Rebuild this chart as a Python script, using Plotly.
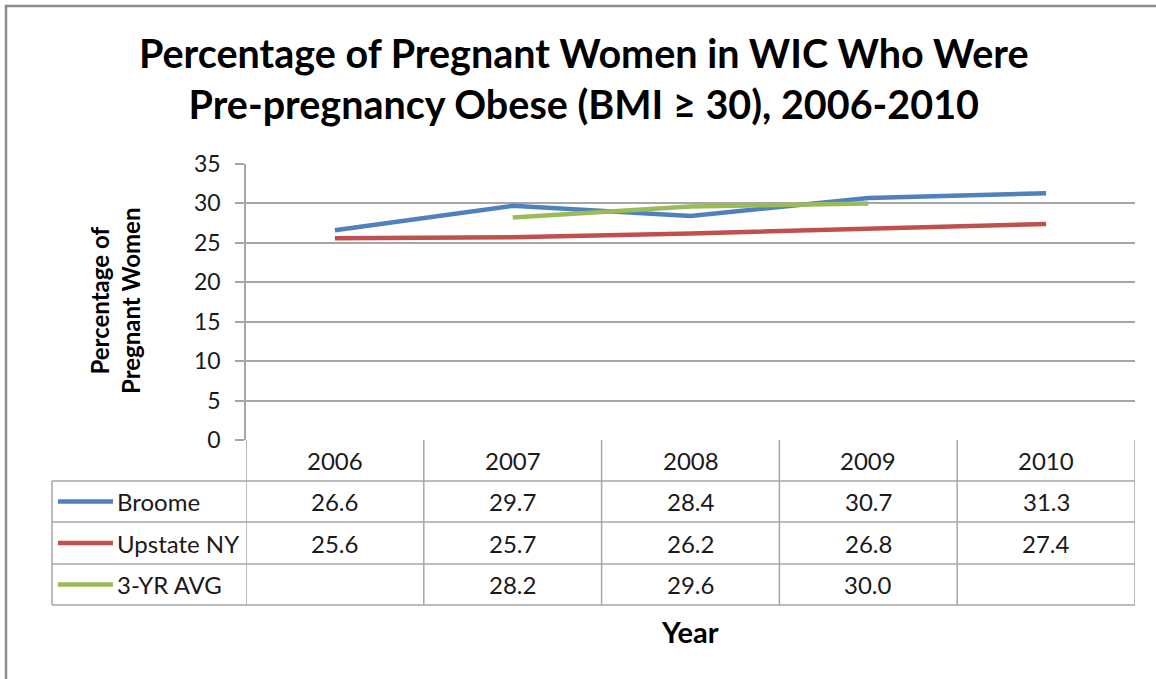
import plotly.graph_objects as go

W, H = 1156, 679

years = ["2006", "2007", "2008", "2009", "2010"]
series_names = ["Broome", "Upstate NY", "3-YR AVG"]
broome = [26.6, 29.7, 28.4, 30.7, 31.3]
upstate = [25.6, 25.7, 26.2, 26.8, 27.4]
avg3 = [None, 28.2, 29.6, 30.0, None]
colors = ["#4F81BD", "#C0504D", "#9BBB59"]
yticks = [0, 5, 10, 15, 20, 25, 30, 35]

title_text = "Percentage of Pregnant Women in WIC Who Were<br>Pre-pregnancy Obese (BMI ≥ 30), 2006-2010"
ytitle = "Percentage of<br>Pregnant Women"
xtitle = "Year"

FONT = "Lato, Carlito, Calibri, sans-serif"
GRID = "#A6A6A6"


def px(x):
    return x / W


def py(y):
    return 1 - y / H


# layout geometry (pixels)
plot_left, plot_right = 246, 1135
plot_top, plot_bottom = 164, 440
row_lines = [440, 481, 522, 564, 605]
legend_left = 52

xs = list(range(len(years)))
data = [broome, upstate, avg3]

fig = go.Figure()
for name, vals, col in zip(series_names, data, colors):
    fig.add_trace(go.Scatter(x=xs, y=vals, mode="lines", name=name,
                             line=dict(color=col, width=4.5),
                             connectgaps=False, showlegend=False,
                             hoverinfo="skip"))

shapes = []
annotations = []

# outer border
shapes.append(dict(type="rect", xref="paper", yref="paper",
                   x0=px(6), x1=px(1170), y0=py(700), y1=py(6),
                   line=dict(color="#8C8C8C", width=2.5)))

# table horizontal lines
for i, yl in enumerate(row_lines):
    if i == 0:
        continue
    shapes.append(dict(type="line", xref="paper", yref="paper",
                       x0=px(legend_left), x1=px(plot_right),
                       y0=py(yl), y1=py(yl),
                       line=dict(color=GRID, width=1.5)))
# table vertical lines (category boundaries)
for k in range(len(years) + 1):
    shapes.append(dict(type="line", xref="x", yref="paper",
                       x0=k - 0.5, x1=k - 0.5,
                       y0=py(row_lines[-1]), y1=py(row_lines[0]),
                       line=dict(color=GRID, width=1.5)))
# legend column left edge
shapes.append(dict(type="line", xref="paper", yref="paper",
                   x0=px(legend_left), x1=px(legend_left),
                   y0=py(row_lines[-1]), y1=py(row_lines[1]),
                   line=dict(color=GRID, width=1.5)))

cell_font = dict(family=FONT, size=24, color="#1a1a1a")

# header years
for k, yr in enumerate(years):
    annotations.append(dict(x=k, y=py((row_lines[0] + row_lines[1]) / 2),
                            xref="x", yref="paper", text=yr, showarrow=False,
                            font=cell_font, xanchor="center", yanchor="middle"))

# rows
for r, (name, vals, col) in enumerate(zip(series_names, data, colors)):
    yc = py((row_lines[r + 1] + row_lines[r + 2]) / 2)
    shapes.append(dict(type="line", xref="paper", yref="paper",
                       x0=px(58), x1=px(113), y0=yc, y1=yc,
                       line=dict(color=col, width=4.5)))
    annotations.append(dict(x=px(115), y=yc, xref="paper", yref="paper",
                            text=name, showarrow=False, font=cell_font,
                            xanchor="left", yanchor="middle"))
    for k, v in enumerate(vals):
        if v is None:
            continue
        annotations.append(dict(x=k, y=yc, xref="x", yref="paper",
                                text=f"{v:.1f}", showarrow=False, font=cell_font,
                                xanchor="center", yanchor="middle"))

# title
annotations.append(dict(x=px(584), y=py(78), xref="paper", yref="paper",
                        text=f"<b>{title_text}</b>", showarrow=False,
                        font=dict(family=FONT, size=39.5, color="#000000"),
                        xanchor="center", yanchor="middle"))
# y title
annotations.append(dict(x=px(115), y=py(301), xref="paper", yref="paper",
                        text=f"<b>{ytitle}</b>", showarrow=False, textangle=-90,
                        font=dict(family=FONT, size=24, color="#000000"),
                        xanchor="center", yanchor="middle"))
# x title
annotations.append(dict(x=px(690), y=py(631), xref="paper", yref="paper",
                        text=f"<b>{xtitle}</b>", showarrow=False,
                        font=dict(family=FONT, size=29, color="#000000"),
                        xanchor="center", yanchor="middle"))

fig.update_layout(
    width=W, height=H, autosize=False,
    margin=dict(l=0, r=0, t=0, b=0, pad=0),
    paper_bgcolor="white", plot_bgcolor="white",
    shapes=shapes, annotations=annotations,
    xaxis=dict(domain=[px(plot_left), px(plot_right)], range=[-0.5, len(years) - 0.5],
               showticklabels=False, showgrid=False, zeroline=False,
               showline=False, ticks="", automargin=False),
    yaxis=dict(domain=[py(plot_bottom), py(plot_top)], range=[0, 35],
               tickvals=yticks, ticks="outside", ticklen=9, tickcolor=GRID,
               tickwidth=1.5, showgrid=True, gridcolor=GRID, gridwidth=1.5,
               showline=True, linecolor=GRID, linewidth=1.5, zeroline=False,
               ticklabelstandoff=10, automargin=False,
               tickfont=dict(family=FONT, size=23, color="#1a1a1a")),
)

fig.write_html(
    "out.html",
    config={"displayModeBar": False},
    post_script="document.body.style.margin='0';document.body.style.overflow='hidden';",
)
